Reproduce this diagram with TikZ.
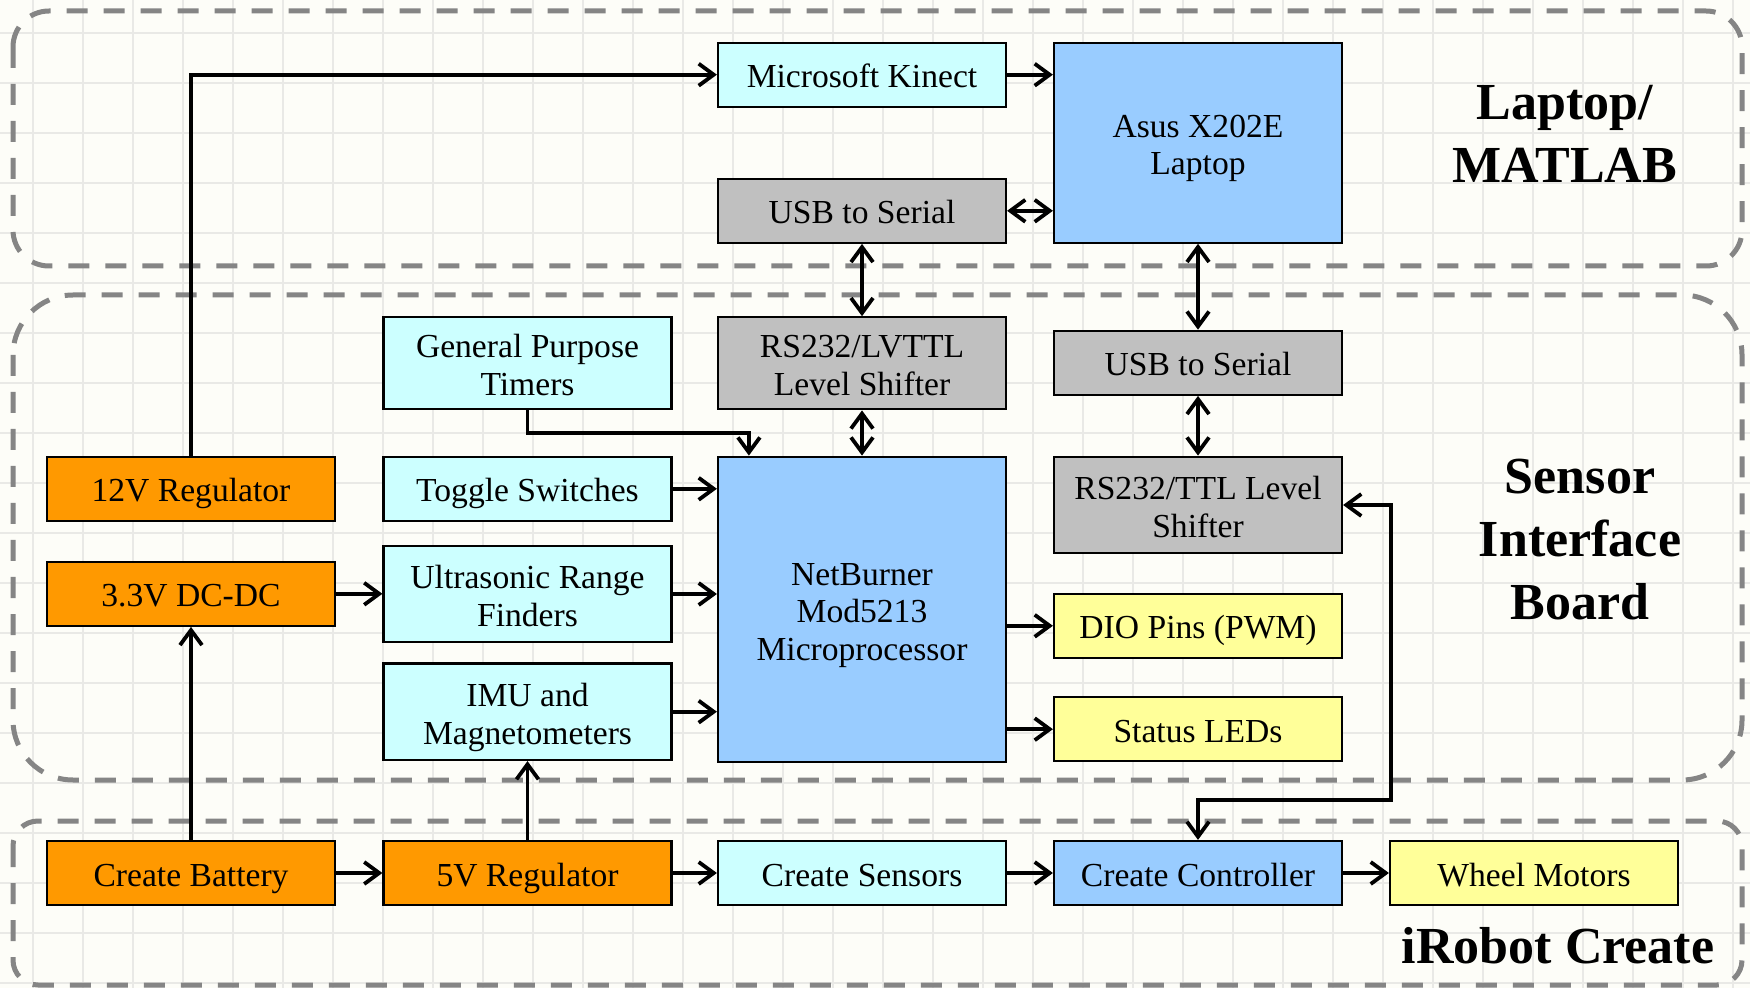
\documentclass[tikz,border=0pt]{standalone}
\usepackage{fontspec}
\setmainfont{Liberation Serif}
\usetikzlibrary{arrows.meta,calc}
\definecolor{bgc}{HTML}{FDFDF8}
\definecolor{gridc}{HTML}{E9E9E6}
\definecolor{cyanb}{HTML}{CCFFFF}
\definecolor{blueb}{HTML}{99CCFF}
\definecolor{grayb}{HTML}{C0C0C0}
\definecolor{orangeb}{HTML}{FF9900}
\definecolor{yellowb}{HTML}{FFFF99}
\definecolor{dashc}{HTML}{858585}
\newcommand{\topstrut}{\rule{0pt}{17.5pt}}
\begin{document}
\begin{tikzpicture}[x=0.5pt,y=-0.5pt,
  >={Straight Barb[length=7.5pt,width=11pt]},
  box/.style={draw=black, line width=1.1pt, minimum width=144pt, minimum height=32pt,
    align=center, inner sep=0pt, font=\fontsize{16.8}{18.8}\selectfont,
    execute at begin node={\rule{0pt}{17pt}},
    execute at end node={\rule[-4pt]{0pt}{0pt}}},
  cyanbox/.style={box, fill=cyanb},
  bluebox/.style={box, fill=blueb},
  graybox/.style={box, fill=grayb},
  orangebox/.style={box, fill=orangeb},
  yellowbox/.style={box, fill=yellowb},
  conn/.style={line width=1.9pt},
  grp/.style={draw=dashc, line width=2.5pt, dash pattern=on 10.5pt off 8pt},
  lbl/.style={align=center, inner sep=0pt, font=\fontsize{26}{31.5}\selectfont\bfseries}]
\useasboundingbox (0,0) rectangle (1750,988);
\fill[bgc] (0,0) rectangle (1750,988);
\foreach \gx in {33,83,...,1733} \draw[gridc, line width=1.1pt] (\gx,0) -- (\gx,988);
\foreach \gy in {33,83,...,983} \draw[gridc, line width=1.1pt] (0,\gy) -- (1750,\gy);

% group frames
\draw[grp, rounded corners=18pt] (13,11) rectangle (1742,266);
\draw[grp, rounded corners=30pt] (13,295) rectangle (1742,780);
\draw[grp, rounded corners=12.5pt] (13,821) rectangle (1742,985);

% labels
\node[lbl] (llaptop) at (1565,134) {Laptop/\\MATLAB};
\node[lbl] (lsensor) at (1580,540) {Sensor\\Interface\\Board};
\node[lbl, anchor=base] (lirobot) at (1558,963.5) {iRobot Create};

% boxes
\node[cyanbox] (kinect) at (862,74.7) {Microsoft Kinect};
\node[bluebox, minimum height=100pt] (asus) at (1198,142.7) {\topstrut Asus X202E\\Laptop};
\node[graybox] (usbtop) at (862,210.8) {USB to Serial};
\node[graybox, minimum height=46pt] (lvttl) at (862,363.3) {\topstrut RS232/LVTTL\\Level Shifter};
\node[cyanbox, minimum height=46pt] (gpt) at (527.5,363.3) {\topstrut General Purpose\\Timers};
\node[graybox] (usbmid) at (1198,362.8) {USB to Serial};
\node[orangebox] (reg12) at (191,488.8) {12V Regulator};
\node[cyanbox] (toggle) at (527.5,488.8) {Toggle Switches};
\node[bluebox, minimum height=152.5pt] (netb) at (862,609.2) {\topstrut NetBurner\\Mod5213\\Microprocessor};
\node[graybox, minimum height=48.3pt] (ttl) at (1198,505) {\topstrut RS232/TTL Level\\Shifter};
\node[orangebox] (dcdc) at (191,593.8) {3.3V DC-DC};
\node[cyanbox, minimum height=48.3pt] (ultra) at (527.5,594) {\topstrut Ultrasonic Range\\Finders};
\node[yellowbox] (dio) at (1198,625.8) {DIO Pins (PWM)};
\node[cyanbox, minimum height=48.3pt] (imu) at (527.5,711.7) {\topstrut IMU and\\Magnetometers};
\node[yellowbox] (leds) at (1198,729.2) {Status LEDs};
\node[orangebox] (battery) at (191,873) {Create Battery};
\node[orangebox] (reg5) at (527.5,873) {5V Regulator};
\node[cyanbox] (sensors) at (862,873) {Create Sensors};
\node[bluebox] (ctrl) at (1198,873) {Create Controller};
\node[yellowbox] (wheels) at (1534,873) {Wheel Motors};

% connectors
\coordinate (gtend) at ($(netb.north west)+(32,0)$);
\draw[conn,->] (reg12.north) |- (kinect.west);
\draw[conn,->] (kinect.east) -- (kinect.east -| asus.west);
\draw[conn,<->] (usbtop.east) -- (usbtop.east -| asus.west);
\draw[conn,<->] (usbtop.south) -- (lvttl.north);
\draw[conn,<->] (asus.south) -- (usbmid.north);
\draw[conn,<->] (usbmid.south) -- (ttl.north);
\draw[conn,<->] (lvttl.south) -- (netb.north);
\draw[conn,->] (gpt.south) -- ++(0,23) -| (gtend);
\draw[conn,->] (toggle.east) -- (toggle.east -| netb.west);
\draw[conn,->] (ultra.east) -- (ultra.east -| netb.west);
\draw[conn,->] (imu.east) -- (imu.east -| netb.west);
\draw[conn,->] (dcdc.east) -- (dcdc.east -| ultra.west);
\draw[conn,->] (battery.north) -- (dcdc.south);
\draw[conn,->] (reg5.north) -- (imu.south);
\draw[conn,->] (netb.east |- dio.west) -- (dio.west);
\draw[conn,->] (netb.east |- leds.west) -- (leds.west);
\draw[conn,->] (battery.east) -- (reg5.west);
\draw[conn,->] (reg5.east) -- (sensors.west);
\draw[conn,->] (sensors.east) -- (ctrl.west);
\draw[conn,->] (ctrl.east) -- (wheels.west);
\draw[conn,<->] (ttl.east) -- ++(48,0) -- ++(0,295) -| (ctrl.north);
\end{tikzpicture}
\end{document}
